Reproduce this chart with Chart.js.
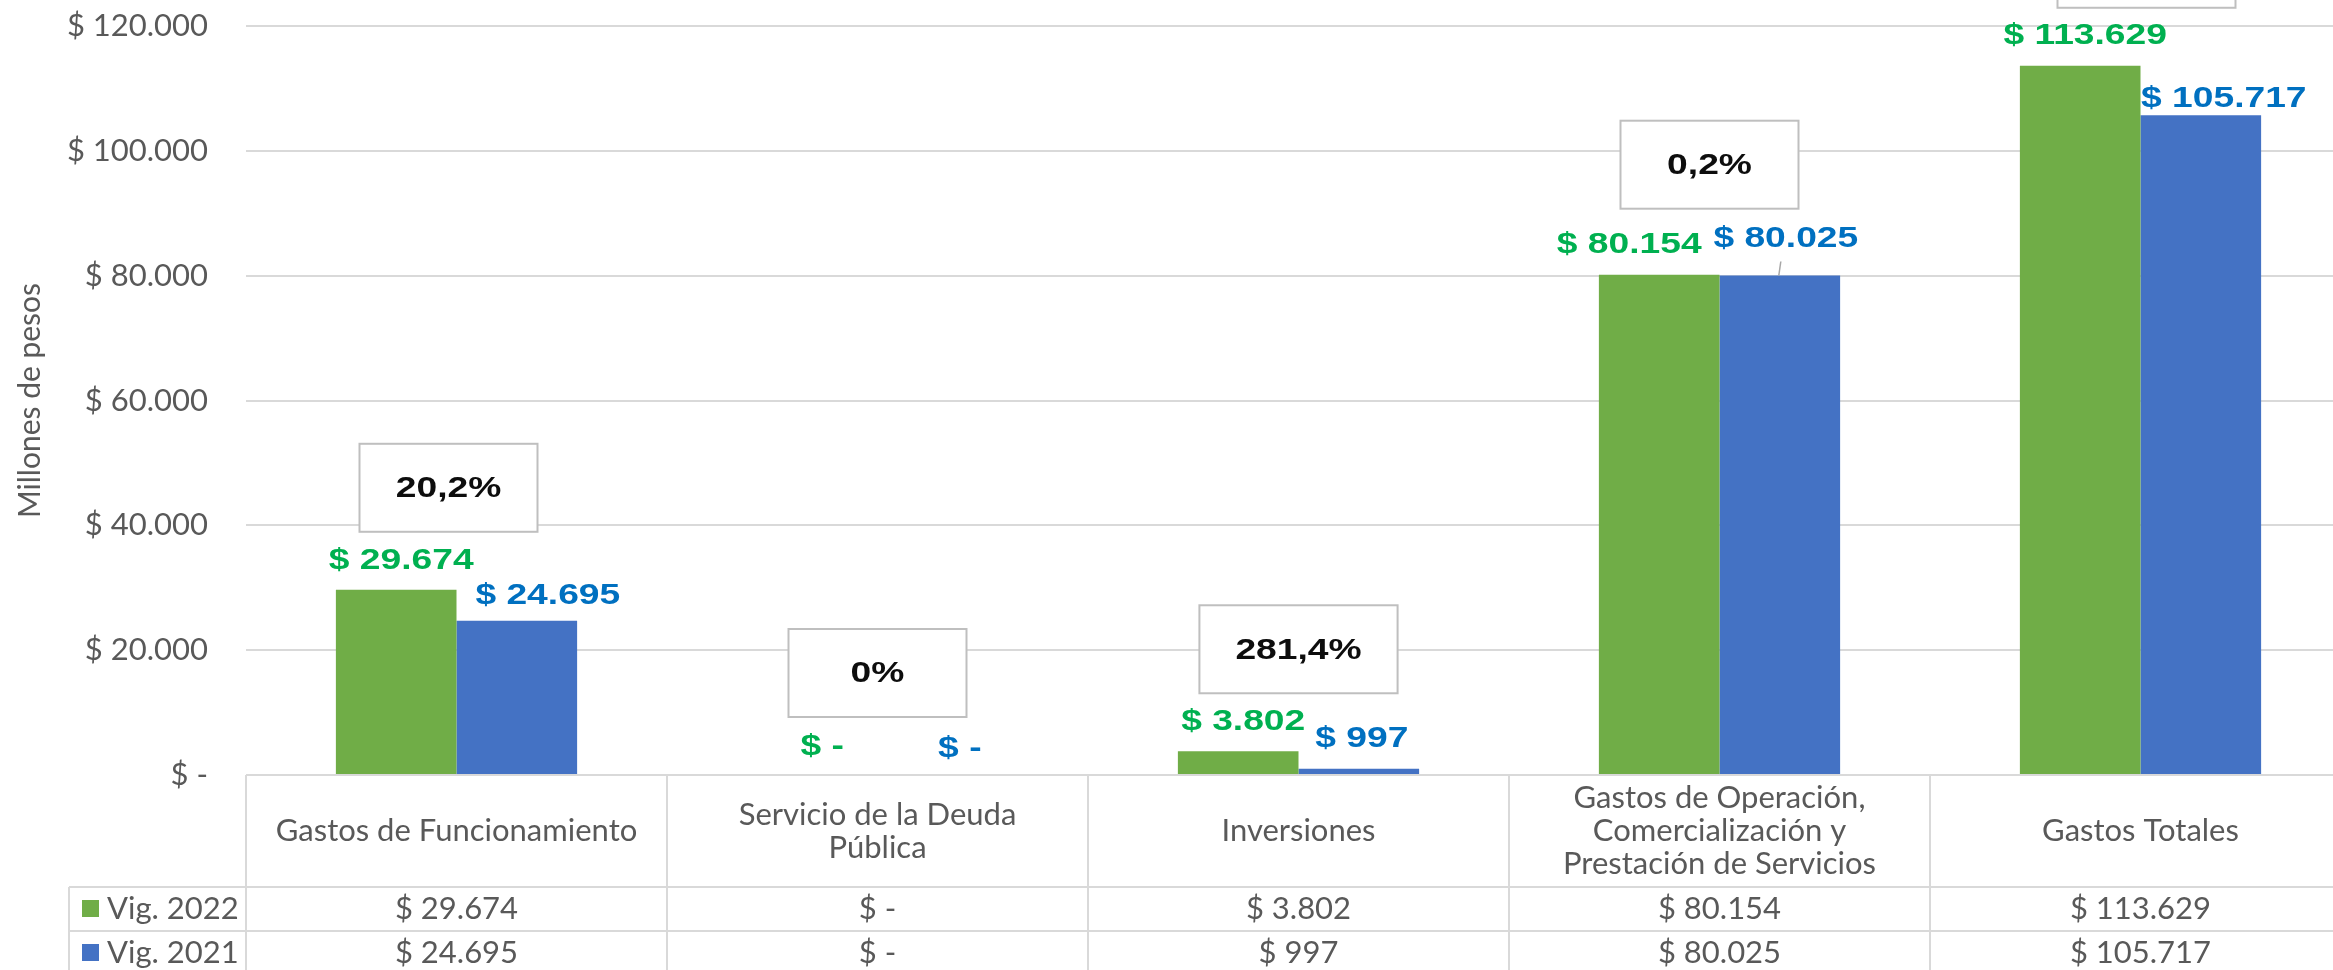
<!DOCTYPE html>
<html>
<head>
<meta charset="utf-8">
<script src="https://cdn.jsdelivr.net/npm/chart.js@4.4.1/dist/chart.umd.min.js"></script>
<style>
html, body { margin: 0; padding: 0; background: #fff; overflow: hidden; }
#wrap { position: relative; width: 2351px; height: 970px; }
</style>
</head>
<body>
<div id="wrap"><canvas id="chart"></canvas></div>
<script>
// data (millones de pesos)
const categories = [
  'Gastos de Funcionamiento',
  ['Servicio de la Deuda', 'Pública'],
  'Inversiones',
  ['Gastos de Operación,', 'Comercialización y', 'Prestación de Servicios'],
  'Gastos Totales'
];
const seriesNames = ['Vig. 2022', 'Vig. 2021'];
const vig2022 = [29674, 0, 3802, 80154, 113629];
const vig2021 = [24695, 0, 997, 80025, 105717];
const variation = ['20,2%', '0%', '281,4%', '0,2%', '7,5%'];
const yMax = 120000;
const yStep = 20000;

// styling
const GREEN = '#70ad47', BLUE = '#4472c4';
const LABEL_COLORS = ['#00b050', '#0070c0'];
const GRAY_TEXT = '#595959';
const LINE = '#d9d9d9';
const GRAY_FONT = '31px Lato, "Open Sans", sans-serif';
const BOLD_FONT = 'bold 30px "Liberation Sans", Arial, sans-serif';
const STRETCH = 1.24;
// hand nudges of the value labels, like in the original sheet [dx, dy from bar top]
const nudge = [
  [[5, -29], [5, -28], [5, -30], [-30, -30], [5, -30]],
  [[31, -25], [22, -26], [3, -30], [6, -37], [23, -16]]
];
// hand nudges of the variation boxes [dx, dy]
const boxNudge = [[-8, 0], [0, 0], [0, 0], [-10, -8], [6, 0]];

function money(v) {
  if (v === 0) return '$ -';
  return '$ ' + String(v).replace(/\B(?=(\d{3})+(?!\d))/g, '.');
}

function stretchedText(ctx, text, x, y) {
  ctx.save();
  ctx.translate(x, y);
  ctx.scale(STRETCH, 1);
  ctx.fillText(text, 0, 0);
  ctx.restore();
}

const sheetPlugin = {
  id: 'sheetPlugin',
  afterDatasetsDraw(chart) {
    const ctx = chart.ctx;
    const metas = [chart.getDatasetMeta(0), chart.getDatasetMeta(1)];
    const xs = chart.scales.x;
    ctx.save();
    ctx.font = BOLD_FONT;
    ctx.textAlign = 'center';
    ctx.textBaseline = 'middle';

    // variation boxes
    categories.forEach((c, i) => {
      const top = Math.min(metas[0].data[i].y, metas[1].data[i].y);
      const cx = xs.getPixelForTick(i) + boxNudge[i][0];
      const cy = top - 102 + boxNudge[i][1];
      const tw = ctx.measureText(variation[i]).width * STRETCH;
      const w = Math.max(178, tw + 72), h = 88;
      ctx.fillStyle = '#fff';
      ctx.fillRect(cx - w / 2, cy - h / 2, w, h);
      ctx.strokeStyle = '#bfbfbf';
      ctx.lineWidth = 2;
      ctx.strokeRect(cx - w / 2, cy - h / 2, w, h);
      ctx.fillStyle = '#0d0d0d';
      stretchedText(ctx, variation[i], cx, cy + 1);
    });

    // value labels
    metas.forEach((meta, d) => {
      const vals = d === 0 ? vig2022 : vig2021;
      meta.data.forEach((bar, i) => {
        const [dx, dy] = nudge[d][i];
        const lx = bar.x + dx, ly = bar.y + dy;
        if (dy < -33) {
          ctx.strokeStyle = '#a6a6a6';
          ctx.lineWidth = 1.5;
          ctx.beginPath();
          ctx.moveTo(bar.x + 1, ly + 23);
          ctx.lineTo(bar.x - 1, bar.y);
          ctx.stroke();
        }
        ctx.fillStyle = LABEL_COLORS[d];
        stretchedText(ctx, money(vals[i]), lx, ly);
      });
    });
    ctx.restore();
  },
  afterDraw(chart) {
    const ctx = chart.ctx;
    const xs = chart.scales.x;
    const area = chart.chartArea;
    const catW = (area.right - area.left) / categories.length;
    const headTop = area.bottom;
    const headBottom = xs.bottom;
    const rowH = 44;
    const legendLeft = 69;
    const tableBottom = headBottom + rowH * 2;

    ctx.save();
    ctx.strokeStyle = LINE;
    ctx.lineWidth = 2;
    ctx.beginPath();
    ctx.moveTo(area.left, headTop); ctx.lineTo(area.right, headTop);
    for (let r = 0; r <= 2; r++) {
      ctx.moveTo(legendLeft, headBottom + r * rowH);
      ctx.lineTo(area.right, headBottom + r * rowH);
    }
    for (let i = 0; i <= categories.length; i++) {
      const bx = xs.getPixelForTick(0) - catW / 2 + i * catW;
      ctx.moveTo(bx, headTop); ctx.lineTo(bx, tableBottom);
    }
    ctx.moveTo(legendLeft, headBottom); ctx.lineTo(legendLeft, tableBottom);
    ctx.stroke();

    ctx.font = GRAY_FONT;
    ctx.textBaseline = 'middle';
    [vig2022, vig2021].forEach((vals, r) => {
      const cy = headBottom + r * rowH + rowH / 2;
      ctx.fillStyle = r === 0 ? GREEN : BLUE;
      ctx.fillRect(legendLeft + 13, cy - 9, 17, 17);
      ctx.fillStyle = GRAY_TEXT;
      ctx.textAlign = 'left';
      ctx.fillText(seriesNames[r], legendLeft + 38, cy);
      ctx.textAlign = 'center';
      vals.forEach((v, i) => ctx.fillText(money(v), xs.getPixelForTick(i), cy));
    });
    ctx.restore();
  }
};

new Chart(document.getElementById('chart'), {
  type: 'bar',
  data: {
    labels: categories,
    datasets: [
      { label: seriesNames[0], data: vig2022, backgroundColor: GREEN, barPercentage: 1, categoryPercentage: 0.573 },
      { label: seriesNames[1], data: vig2021, backgroundColor: BLUE, barPercentage: 1, categoryPercentage: 0.573 }
    ]
  },
  options: {
    animation: false,
    responsive: true,
    maintainAspectRatio: false,
    layout: { padding: { top: 26, right: 0, bottom: 83, left: 0 } },
    plugins: {
      legend: { display: false },
      tooltip: { enabled: false }
    },
    scales: {
      x: {
        grid: { display: false },
        border: { display: false },
        ticks: {
          autoSkip: false,
          maxRotation: 0,
          minRotation: 0,
          crossAlign: 'center',
          padding: 15,
          color: GRAY_TEXT,
          font: { family: 'Lato', size: 31, lineHeight: 1.065 }
        },
        afterFit: s => { s.height = 112; }
      },
      y: {
        min: 0,
        max: yMax,
        ticks: {
          stepSize: yStep,
          padding: 38,
          color: GRAY_TEXT,
          font: { family: 'Lato', size: 31 },
          callback: v => money(v)
        },
        grid: { color: LINE, lineWidth: 2, drawTicks: false },
        border: { display: false },
        title: {
          display: true,
          text: 'Millones de pesos',
          color: GRAY_TEXT,
          font: { family: 'Lato', size: 30 },
          padding: { top: 12, bottom: 0 }
        },
        afterFit: s => { s.width = 246; s.paddingTop = 0; s.paddingBottom = 0; }
      }
    }
  },
  plugins: [sheetPlugin]
});
</script>
</body>
</html>
